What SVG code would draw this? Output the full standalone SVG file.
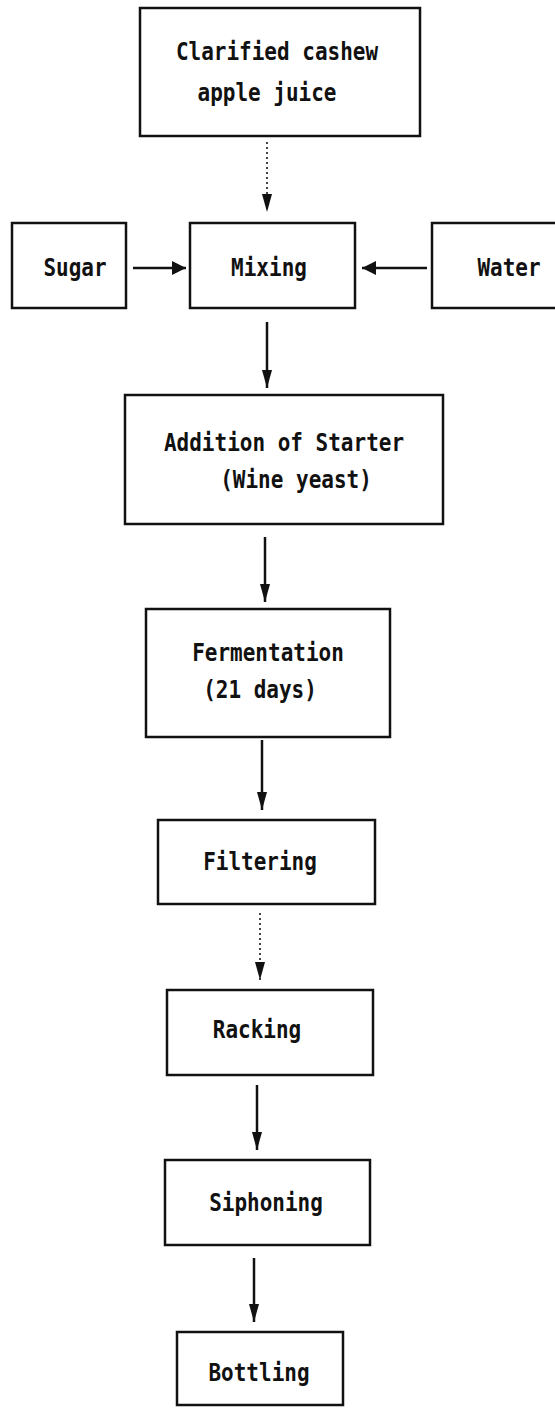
<svg xmlns="http://www.w3.org/2000/svg" width="555" height="1413" viewBox="0 0 555 1413">
<style>
.box{fill:#fff;stroke:#111;stroke-width:2.5}
.t{font-family:"DejaVu Sans Mono","Liberation Mono",monospace;font-weight:bold;font-size:21px;fill:#111;text-anchor:middle}
.c{stroke:#111;stroke-width:2.5;fill:none}
.d{stroke:#444;stroke-width:2;stroke-dasharray:2 3;fill:none}
</style>
<defs>
<marker id="ah" viewBox="0 0 14 14" refX="14" refY="7" markerWidth="14" markerHeight="14" markerUnits="userSpaceOnUse" orient="auto">
<path d="M0,0 L14,7 L0,14 Z" fill="#111"/>
</marker>
<marker id="av" viewBox="0 0 18 10" refX="18" refY="5" markerWidth="18" markerHeight="10" markerUnits="userSpaceOnUse" orient="auto">
<path d="M0,0 L18,5 L0,10 Z" fill="#111"/>
</marker>
</defs>
<rect width="555" height="1413" fill="#fff"/>
<g id="n1"><rect class="box" x="140" y="8" width="280" height="128"/>
<text class="t" transform="translate(277 60) scale(1 1.18)">Clarified cashew</text>
<text class="t" transform="translate(267 101) scale(1 1.18)">apple juice</text></g>
<g id="n2"><rect class="box" x="12" y="223" width="114" height="85"/>
<text class="t" transform="translate(75 276) scale(1 1.18)">Sugar</text></g>
<g id="n3"><rect class="box" x="190" y="223" width="165" height="85"/>
<text class="t" transform="translate(269 276) scale(1 1.18)">Mixing</text></g>
<g id="n4"><rect class="box" x="432" y="223" width="135" height="85"/>
<text class="t" transform="translate(509 276) scale(1 1.18)">Water</text></g>
<g id="n5"><rect class="box" x="125" y="395" width="318" height="129"/>
<text class="t" transform="translate(284 451) scale(1 1.18)">Addition of Starter</text>
<text class="t" transform="translate(296 488) scale(1 1.18)">(Wine yeast)</text></g>
<g id="n6"><rect class="box" x="146" y="609" width="244" height="128"/>
<text class="t" transform="translate(268 661) scale(1 1.18)">Fermentation</text>
<text class="t" transform="translate(260 698) scale(1 1.18)">(21 days)</text></g>
<g id="n7"><rect class="box" x="158" y="820" width="217" height="84"/>
<text class="t" transform="translate(260 870) scale(1 1.18)">Filtering</text></g>
<g id="n8"><rect class="box" x="167" y="990" width="206" height="85"/>
<text class="t" transform="translate(257 1038) scale(1 1.18)">Racking</text></g>
<g id="n9"><rect class="box" x="165" y="1160" width="205" height="85"/>
<text class="t" transform="translate(266 1211) scale(1 1.18)">Siphoning</text></g>
<g id="n10"><rect class="box" x="177" y="1332" width="166" height="73"/>
<text class="t" transform="translate(259 1381) scale(1 1.18)">Bottling</text></g>
<g id="connectors">
<line class="d" x1="267" y1="142" x2="267" y2="212" marker-end="url(#av)"/>
<line class="c" x1="133" y1="268" x2="186" y2="268" marker-end="url(#ah)"/>
<line class="c" x1="427" y1="268" x2="362" y2="268" marker-end="url(#ah)"/>
<line class="c" x1="267" y1="322" x2="267" y2="388" marker-end="url(#av)"/>
<line class="c" x1="265" y1="537" x2="265" y2="602" marker-end="url(#av)"/>
<line class="c" x1="262" y1="740" x2="262" y2="810" marker-end="url(#av)"/>
<line class="d" x1="260" y1="913" x2="260" y2="980" marker-end="url(#av)"/>
<line class="c" x1="257" y1="1085" x2="257" y2="1150" marker-end="url(#av)"/>
<line class="c" x1="254" y1="1258" x2="254" y2="1322" marker-end="url(#av)"/>
</g>
</svg>
